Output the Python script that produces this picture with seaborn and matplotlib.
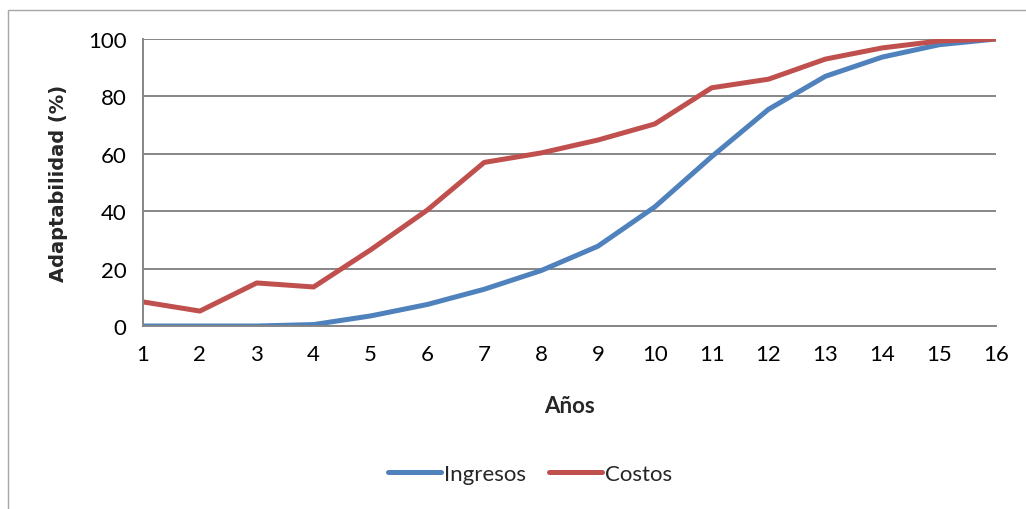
import numpy as np
import pandas as pd
import matplotlib
matplotlib.use("Agg")
import matplotlib.pyplot as plt
import seaborn as sns
from matplotlib.patches import Rectangle
from matplotlib.lines import Line2D

years = list(range(1, 17))
ingresos = [0, 0, 0, 0.5, 3.5, 7.5, 12.8, 19.3, 27.8, 41.5, 59, 75.5, 87, 93.7, 98, 100]
costos = [8.4, 5.2, 15, 13.6, 26.5, 40.4, 57, 60.3, 64.8, 70.4, 83, 86, 93, 96.9, 99.3, 100]
series_names = ["Ingresos", "Costos"]
yticks = [0, 20, 40, 60, 80, 100]

df = pd.DataFrame({
    "Años": years * 2,
    "Adaptabilidad (%)": ingresos + costos,
    "Serie": [series_names[0]] * len(years) + [series_names[1]] * len(years),
})

sns.set_style("white")
plt.rcParams['font.family'] = ['Lato', 'DejaVu Sans']

fig = plt.figure(figsize=(10.26, 5.10), dpi=100)
ax = fig.add_axes([143/1026, 1 - 327/510, (996 - 143)/1026, (327 - 40)/510])

# outer chart frame
fig.patches.append(Rectangle((8/1026, -0.05), 1.1, 1 - 11/510 + 0.05, transform=fig.transFigure,
                             fill=False, edgecolor="#a6a6a6", linewidth=1.0))

sns.lineplot(data=df, x="Años", y="Adaptabilidad (%)", hue="Serie",
             palette=["#4F81BD", "#C0504D"], linewidth=3.6, ax=ax, legend=False)

ax.set_xlim(1, 16)
ax.set_ylim(0, 100)
ax.set_xticks(years)
ax.set_yticks(yticks)
ax.grid(axis="y", color="#868686", linewidth=1.4)
ax.grid(axis="x", visible=False)
for s in ["top", "right"]:
    ax.spines[s].set_visible(False)
for s in ["left", "bottom"]:
    ax.spines[s].set_color("#868686")
    ax.spines[s].set_linewidth(1.4)
ax.tick_params(axis="both", direction="out", length=6, width=1.4, color="#868686",
               labelsize=16, labelcolor="black")
ax.tick_params(axis="x", pad=7)
ax.tick_params(axis="y", pad=6)
ax.set_xlabel("Años", fontsize=16, fontweight="bold", labelpad=22)
ax.set_ylabel("Adaptabilidad (%)", fontsize=14, fontweight="bold", labelpad=14,
              family=["DejaVu Sans"])

handles = [Line2D([0], [0], color="#4F81BD", lw=3.6), Line2D([0], [0], color="#C0504D", lw=3.6)]
fig.legend(handles, series_names, loc="center", bbox_to_anchor=(530/1026, 1 - 475/510),
           ncol=2, frameon=False, fontsize=16, handlelength=2.4, handletextpad=0.15,
           columnspacing=1.0)

fig.savefig("out.png", dpi=100)
